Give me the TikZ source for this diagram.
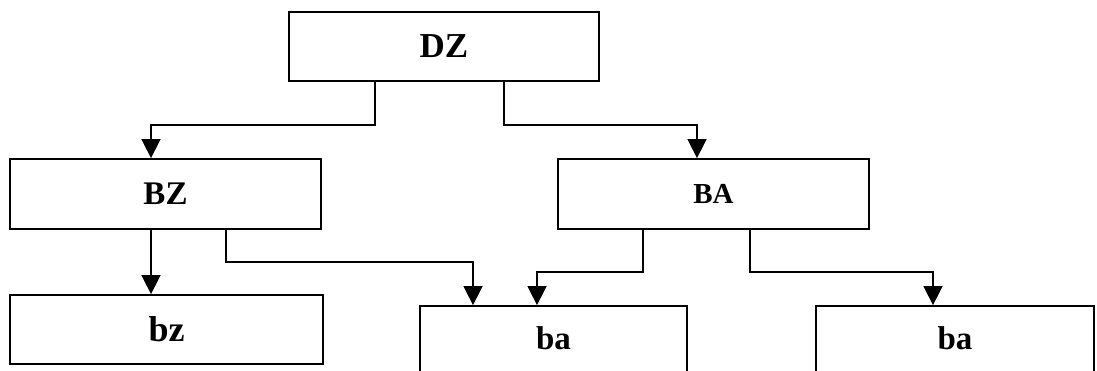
\documentclass[tikz,border=0pt]{standalone}
\usepackage{fontspec}
\setmainfont{Liberation Serif}
\usetikzlibrary{arrows.meta}
\begin{document}
\begin{tikzpicture}[x=1pt,y=-1pt,
  box/.style={draw,line width=1.8pt,rectangle,inner sep=0pt,font=\bfseries},
  arr/.style={line width=1.6pt,-{Triangle[width=19pt,length=19pt]}}]
\useasboundingbox (0,0) rectangle (1097,370);
\clip (0,0) rectangle (1097,370);
\node[box,minimum width=310pt,minimum height=69pt,font=\bfseries\fontsize{35}{40}\selectfont] (DZ) at (444,46.5) {DZ};
\node[box,minimum width=311pt,minimum height=70pt,font=\bfseries\fontsize{33}{38}\selectfont] (BZ) at (165.5,194) {BZ};
\node[box,minimum width=311pt,minimum height=70pt,font=\bfseries\fontsize{29}{34}\selectfont] (BA) at (713.5,194) {BA};
\node[box,minimum width=313pt,minimum height=69pt,font=\bfseries\fontsize{36}{40}\selectfont] (bz) at (166.5,329.5) {bz};
\node[box,minimum width=267pt,minimum height=72pt,font=\bfseries\fontsize{33}{38}\selectfont] (ba1) at (553.5,342) {\raisebox{7pt}{ba}};
\node[box,minimum width=278pt,minimum height=72pt,font=\bfseries\fontsize{33}{38}\selectfont] (ba2) at (955,342) {\raisebox{7pt}{ba}};
\draw[arr] (DZ.south -| 375,0) -- (375,125) -| (BZ.north -| 151,0);
\draw[arr] (DZ.south -| 504,0) -- (504,125) -| (BA.north -| 697,0);
\draw[arr] (BZ.south -| 151,0) -- (bz.north -| 151,0);
\draw[arr] (BZ.south -| 226,0) -- (226,262) -| (ba1.north -| 473,0);
\draw[arr] (BA.south -| 643,0) -- (643,272) -| (ba1.north -| 537,0);
\draw[arr] (BA.south -| 750,0) -- (750,272) -| (ba2.north -| 933,0);
\end{tikzpicture}
\end{document}
